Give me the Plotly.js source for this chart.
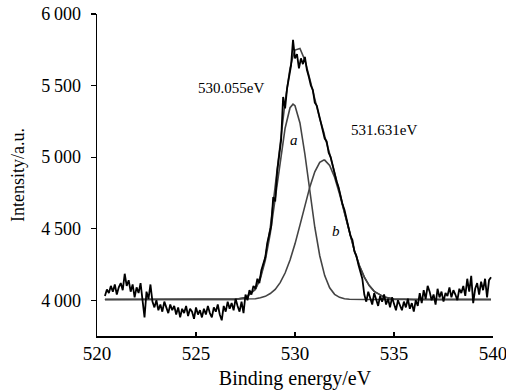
<!DOCTYPE html>
<html>
<head>
<meta charset="utf-8">
<script src="https://cdn.plot.ly/plotly-3.0.1.min.js"></script>
<style>html,body{margin:0;padding:0;background:#fff;}#chart{width:506px;height:390px;}</style>
</head>
<body>
<div id="chart"></div>
<script>
// Raw spectrum (binding energy in eV, intensity in a.u.)
const rawEnergy = [
520.4,520.5,520.6,520.7,520.8,520.9,521.0,521.1,521.2,521.3,
521.4,521.5,521.6,521.7,521.8,521.9,522.0,522.1,522.2,522.3,
522.4,522.5,522.6,522.7,522.8,522.9,523.0,523.1,523.2,523.3,
523.4,523.5,523.6,523.7,523.8,523.9,524.0,524.1,524.2,524.3,
524.4,524.5,524.6,524.7,524.8,524.9,525.0,525.1,525.2,525.3,
525.4,525.5,525.6,525.7,525.8,525.9,526.0,526.1,526.2,526.3,
526.4,526.5,526.6,526.7,526.8,526.9,527.0,527.1,527.2,527.3,
527.4,527.5,527.6,527.7,527.8,527.9,528.0,528.1,528.2,528.3,
528.4,528.5,528.6,528.7,528.8,528.9,529.0,529.1,529.2,529.3,
529.4,529.5,529.6,529.7,529.8,529.9,530.0,530.1,530.2,530.3,
530.4,530.5,530.6,530.7,530.8,530.9,531.0,531.1,531.2,531.3,
531.4,531.5,531.6,531.7,531.8,531.9,532.0,532.1,532.2,532.3,
532.4,532.5,532.6,532.7,532.8,532.9,533.0,533.1,533.2,533.3,
533.4,533.5,533.6,533.7,533.8,533.9,534.0,534.1,534.2,534.3,
534.4,534.5,534.6,534.7,534.8,534.9,535.0,535.1,535.2,535.3,
535.4,535.5,535.6,535.7,535.8,535.9,536.0,536.1,536.2,536.3,
536.4,536.5,536.6,536.7,536.8,536.9,537.0,537.1,537.2,537.3,
537.4,537.5,537.6,537.7,537.8,537.9,538.0,538.1,538.2,538.3,
538.4,538.5,538.6,538.7,538.8,538.9,539.0,539.1,539.2,539.3,
539.4,539.5,539.6,539.7,539.8,539.9
];
const rawIntensity = [
4030,4075,4050,4100,4060,4110,4040,4090,4120,4070,
4185,4100,4140,4060,4110,4020,4090,4050,4120,3990,
3880,4060,4010,4110,3990,3950,4000,3930,3970,3920,
3990,3950,3910,3970,3930,3960,3900,3950,3880,3940,
3910,3960,3890,3940,3920,3870,3950,3900,3930,3880,
3940,3900,3960,3910,3880,3950,3920,3970,3900,3860,
3960,3920,3990,3940,3980,3930,4010,3960,3920,3990,
3910,4040,4000,4070,4040,4100,4080,4150,4120,4210,
4260,4300,4400,4470,4520,4720,4690,4900,5010,5120,
5420,5340,5480,5560,5640,5820,5690,5720,5620,5690,
5650,5700,5610,5560,5500,5470,5380,5360,5300,5250,
5190,5130,5110,5030,5000,4940,4900,4830,4790,4720,
4670,4630,4560,4510,4450,4420,4340,4310,4250,4200,
4150,4040,3990,4060,4020,3970,4050,4000,3960,4030,
3990,4040,3970,4010,3950,4020,3980,3930,4000,3960,
3930,3990,3950,4010,3940,3980,3920,4000,3960,4050,
3980,4070,4010,4100,4060,4000,4040,3970,4080,4020,
4060,3990,4050,4030,4090,4020,4070,4040,4000,4080,
4050,4100,4030,4150,4060,4170,3980,4080,4120,4040,
4130,4070,4150,4020,4140,4160
];
// Fitted curves (component a, component b, envelope)
const fitEnergy = [520.4,526.0,527.0,527.5,528.0,528.25,528.5,528.75,529.0,529.25,529.5,529.75,529.9,530.0,530.25,530.5,530.75,531.0,531.25,531.45,531.5,531.75,532.0,532.25,532.5,532.75,533.0,533.25,533.5,533.75,534.0,534.5,535.0,536.0,539.9];
const peakA = [4005,4005,4006,4017,4075,4151,4278,4465,4707,4970,5202,5345,5370,5359,5239,5020,4758,4510,4311,4200,4172,4087,4041,4020,4010,4007,4005,4005,4005,4005,4005,4005,4005,4005,4005];
const peakB = [4005,4005,4005,4007,4010,4017,4027,4047,4076,4123,4190,4281,4340,4394,4525,4662,4792,4897,4963,4980,4979,4942,4859,4742,4608,4471,4347,4242,4161,4102,4062,4022,4009,4005,4005];
const envelope = [4005,4005,4006,4019,4080,4163,4300,4507,4778,5088,5387,5621,5705,5748,5759,5677,5545,5402,5269,5175,5146,5024,4895,4757,4613,4473,4347,4242,4161,4102,4062,4022,4009,4005,4005];

const yTickVals = [4000,4500,5000,5500,6000];
const yTickText = ['4\u2009000','4\u2009500','5\u2009000','5\u2009500','6\u2009000'];
const xTickVals = [520,525,530,535,540];

const FONT = 'Liberation Serif, DejaVu Serif, serif';
const fitStyle = {color:'#444444', width:1.6};

const traces = [
  {x: fitEnergy, y: peakA, mode:'lines', line: fitStyle, hoverinfo:'skip'},
  {x: fitEnergy, y: peakB, mode:'lines', line: fitStyle, hoverinfo:'skip'},
  {x: fitEnergy, y: envelope, mode:'lines', line: fitStyle, hoverinfo:'skip'},
  {x: rawEnergy, y: rawIntensity, mode:'lines', line:{color:'#000000', width:1.8}, hoverinfo:'skip'}
];

const layout = {
  width:506, height:390,
  margin:{l:97, r:13, t:14, b:54},
  paper_bgcolor:'#ffffff', plot_bgcolor:'#ffffff',
  showlegend:false,
  font:{family:FONT, color:'#000', size:18},
  xaxis:{
    range:[520,540], tickvals:xTickVals, ticktext:xTickVals.map(String),
    ticks:'inside', ticklen:4, tickwidth:1.2, tickcolor:'#000',
    showline:true, linecolor:'#000', linewidth:1.5, mirror:false,
    showgrid:false, zeroline:false,
    ticklabeloverflow:'allow',
    tickfont:{family:FONT, size:19, color:'#000'},
    title:{text:'Binding energy/eV', font:{family:FONT, size:20, color:'#000'}, standoff:9},
    automargin:false
  },
  yaxis:{
    range:[3750,6000], tickvals:yTickVals, ticktext:yTickText,
    ticks:'outside', ticklen:5, tickwidth:1.2, tickcolor:'#000',
    showline:true, linecolor:'#000', linewidth:1.5, mirror:false,
    showgrid:false, zeroline:false,
    tickfont:{family:FONT, size:18, color:'#000'},
    ticklabelstandoff:6,
    title:{text:'Intensity/a.u.', font:{family:FONT, size:18, color:'#000'}, standoff:12},
    automargin:false
  },
  annotations:[
    {x:526.75, y:5484, text:'530.055eV', showarrow:false, font:{family:FONT, size:15, color:'#000'}},
    {x:534.5, y:5190, text:'531.631eV', showarrow:false, font:{family:FONT, size:15, color:'#000'}},
    {x:529.93, y:5120, text:'<i>a</i>', showarrow:false, font:{family:FONT, size:15, color:'#000'}},
    {x:532.05, y:4483, text:'<i>b</i>', showarrow:false, font:{family:FONT, size:15, color:'#000'}}
  ]
};

Plotly.newPlot('chart', traces, layout, {staticPlot:true, displayModeBar:false});
</script>
</body>
</html>
